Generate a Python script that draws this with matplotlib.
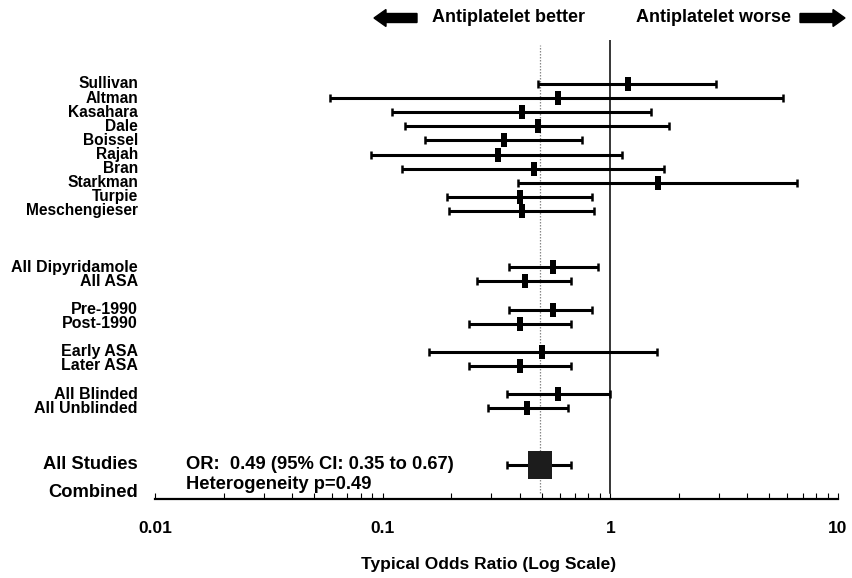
import matplotlib
matplotlib.use("Agg")
import matplotlib.pyplot as plt
import numpy as np
from matplotlib.path import Path
from matplotlib.patches import FancyArrow
from matplotlib.transforms import IdentityTransform
from matplotlib.ticker import FixedLocator, NullFormatter

plt.rcParams['font.family'] = ['Liberation Sans', 'DejaVu Sans']
plt.rcParams['font.weight'] = 'bold'

# ---- data ----
studies = ["Sullivan", "Altman", "Kasahara", "Dale", "Boissel", "Rajah", "Bran",
           "Starkman", "Turpie", "Meschengieser"]
study_or = [1.20, 0.59, 0.41, 0.48, 0.34, 0.32, 0.46, 1.62, 0.40, 0.41]
study_lo = [0.48, 0.059, 0.110, 0.125, 0.153, 0.089, 0.122, 0.395, 0.191, 0.195]
study_hi = [2.92, 5.74, 1.51, 1.81, 0.75, 1.13, 1.72, 6.6, 0.83, 0.85]
study_rows = [0, 1, 2, 3, 4, 5, 6, 7, 8, 9]

groups = ["All Dipyridamole", "All ASA", "Pre-1990", "Post-1990",
          "Early ASA", "Later ASA", "All Blinded", "All Unblinded"]
group_or = [0.56, 0.42, 0.56, 0.40, 0.50, 0.40, 0.59, 0.43]
group_lo = [0.36, 0.26, 0.36, 0.24, 0.16, 0.24, 0.35, 0.29]
group_hi = [0.88, 0.67, 0.83, 0.67, 1.61, 0.67, 1.00, 0.65]
group_rows = [13, 14, 16, 17, 19, 20, 22, 23]

pooled_or = 0.49
pooled_lo = 0.35
pooled_hi = 0.67
pooled_row = 27

xticks = [0.01, 0.1, 1, 10]
xticklabels = ["0.01", "0.1", "1", "10"]

# ---- figure ----
W, H = 852, 578
fig = plt.figure(figsize=(W / 100, H / 100), dpi=100)
ax_left, ax_right, ax_bot, ax_top = 155, 838, 499, 40
ax = fig.add_axes([ax_left / W, 1 - ax_bot / H, (ax_right - ax_left) / W, (ax_bot - ax_top) / H])
ax.set_xscale('log')
ax.set_xlim(0.01, 10)
ax.set_ylim((ax_bot - 84) / 14.1, (ax_top - 84) / 14.1)

# reference lines
gap = 6 / (ax_bot - ax_top)
ax.axvline(1, ymin=gap, color='black', lw=1.1, zorder=1)
ax.axvline(pooled_or, ymin=gap, ymax=0.99, color='#888888', lw=0.9, ls=(0, (1.2, 1.2)), zorder=1)

rect = Path([(-0.2, -0.5), (0.2, -0.5), (0.2, 0.5), (-0.2, 0.5), (-0.2, -0.5)],
            [Path.MOVETO, Path.LINETO, Path.LINETO, Path.LINETO, Path.CLOSEPOLY])
sq = Path([(-0.43, -0.5), (0.43, -0.5), (0.43, 0.5), (-0.43, 0.5), (-0.43, -0.5)],
          [Path.MOVETO, Path.LINETO, Path.LINETO, Path.LINETO, Path.CLOSEPOLY])

def draw(orv, lo, hi, rows, marker, ms, color):
    orv = np.array(orv); lo = np.array(lo); hi = np.array(hi)
    ax.errorbar(orv, rows, xerr=[orv - lo, hi - orv], fmt='none', ecolor='black',
                elinewidth=2.2, capsize=2.8, capthick=1.8, zorder=3)
    ax.plot(orv, rows, ls='none', marker=marker, ms=ms, color=color,
            markeredgewidth=0, zorder=4)

draw(study_or, study_lo, study_hi, study_rows, rect, 10.5, 'black')
draw(group_or, group_lo, group_hi, group_rows, rect, 10.5, 'black')
draw([pooled_or], [pooled_lo], [pooled_hi], [pooled_row], sq, 19.5, '#1c1c1c')

# axes styling
for s in ['top', 'right', 'left']:
    ax.spines[s].set_visible(False)
ax.spines['bottom'].set_linewidth(1.6)
ax.set_yticks([])
ax.xaxis.set_major_locator(FixedLocator(xticks))
ax.set_xticklabels(xticklabels, fontsize=12.5, fontweight='bold')
ax.xaxis.set_minor_locator(FixedLocator([m * 10.0 ** e for e in (-2, -1, 0) for m in range(2, 10)]))
ax.xaxis.set_minor_formatter(NullFormatter())
ax.tick_params(axis='x', which='both', direction='in', length=4, width=0.8, pad=16)
fig.text(489 / W, 1 - 565 / H, "Typical Odds Ratio (Log Scale)", ha='center', va='center',
         fontsize=12.5, fontweight='bold')

# row labels (placed in pixel x, data y)
lab_tr = ax.get_yaxis_transform()
xlab = (138 - ax_left) / (ax_right - ax_left)
for name, r in zip(studies, study_rows):
    ax.text(xlab, r, name, transform=lab_tr, ha='right', va='center', fontsize=11.2,
            fontweight='bold', clip_on=False)
for name, r in zip(groups, group_rows):
    ax.text(xlab, r, name, transform=lab_tr, ha='right', va='center', fontsize=11.5,
            fontweight='bold', clip_on=False)
ax.text(xlab, pooled_row, "All Studies", transform=lab_tr, ha='right', va='center',
        fontsize=13.2, fontweight='bold', clip_on=False)
ax.text(xlab, pooled_row + 1.95, "Combined", transform=lab_tr, ha='right', va='center',
        fontsize=13.2, fontweight='bold', clip_on=False)

xtxt = (186 - ax_left) / (ax_right - ax_left)
ax.text(xtxt, pooled_row, "OR:  %.2f (95%% CI: %.2f to %.2f)" % (pooled_or, pooled_lo, pooled_hi),
        transform=lab_tr, ha='left', va='center', fontsize=13.2, fontweight='bold')
ax.text(xtxt, pooled_row + 1.4, "Heterogeneity p=0.49", transform=lab_tr, ha='left',
        va='center', fontsize=13.2, fontweight='bold')

# top annotations
ytop = 1 - 18 / H
fig.text(509 / W, ytop, "Antiplatelet better", ha='center', va='center', fontsize=13,
         fontweight='bold')
fig.text(713 / W, ytop, "Antiplatelet worse", ha='center', va='center', fontsize=13,
         fontweight='bold')
yp = H - 18
fig.patches.append(FancyArrow(417, yp, -43, 0, width=9, head_width=17, head_length=12,
                              length_includes_head=True, color='black',
                              transform=IdentityTransform(), figure=fig))
fig.patches.append(FancyArrow(800, yp, 45, 0, width=9, head_width=17, head_length=12,
                              length_includes_head=True, color='black',
                              transform=IdentityTransform(), figure=fig))

fig.savefig("out.png", dpi=100)
